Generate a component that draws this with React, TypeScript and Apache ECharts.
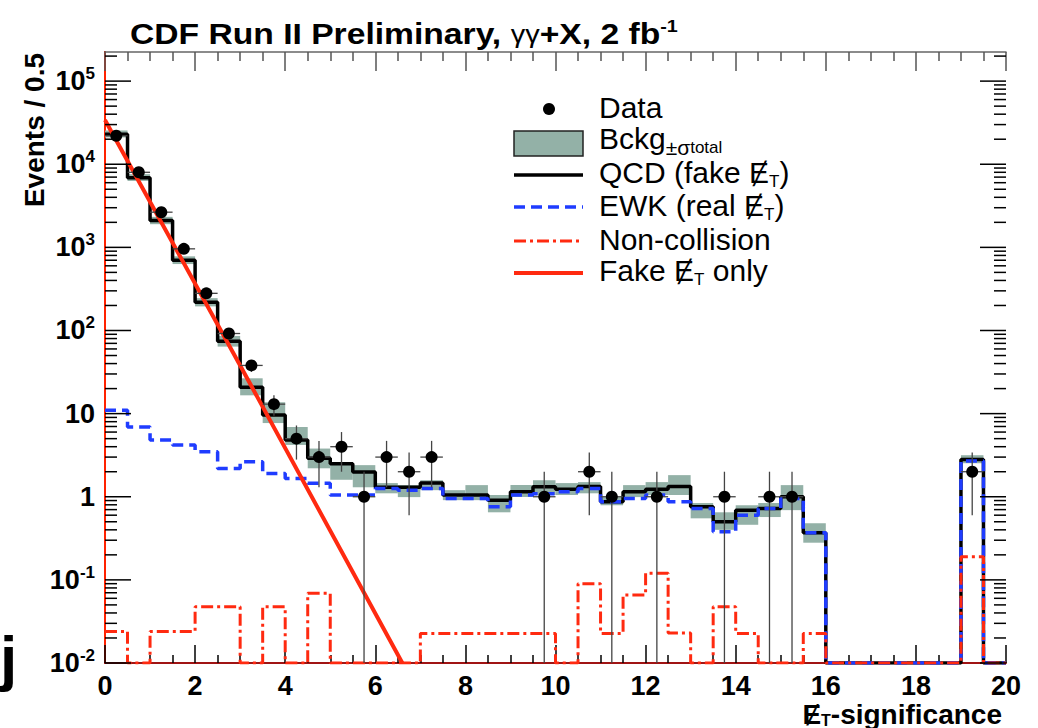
import React, { useEffect, useRef } from "react";
import * as echarts from "echarts";

const FONT = "'Liberation Sans', Arial, Helvetica, sans-serif";
const ESLASH = "\u0246"; // E with stroke (missing transverse energy)

// ---------- axis setup ----------
const BIN_WIDTH = 0.5;
const X_MIN = 0;
const X_MAX = 20;
const X_INTERVAL = 2;
const Y_MIN = 0.01;
const Y_MAX = 2.24e5;

// ---------- histogram contents (40 bins of 0.5) ----------
const qcdFake = [
  23000, 6900, 2100, 700, 218, 74, 20.8, 9.6, 4.8, 2.9,
  2.5, 1.98, 1.3, 1.3, 1.46, 1.05, 1.05, 0.91, 1.15, 1.32,
  1.23, 1.33, 0.87, 1.15, 1.23, 1.33, 0.76, 0.5, 0.69, 0.72,
  1.0, 0.37, 0, 0, 0, 0, 0, 0, 2.8, 0,
];
const ewkReal = [
  11, 6.9, 4.8, 4.2, 3.47, 2.19, 2.63, 1.9, 1.66, 1.45,
  1.05, 1.05, 1.26, 1.2, 1.26, 0.95, 0.95, 0.76, 1.05, 1.09,
  1.15, 1.26, 0.87, 0.95, 1.05, 0.87, 0.72, 0.38, 0.6, 0.72,
  0.95, 0.37, 0, 0, 0, 0, 0, 0, 2.7, 0,
];
const nonCollision = [
  0.024, 0, 0.024, 0.024, 0.0475, 0.0475, 0, 0.0475, 0, 0.069,
  0, 0, 0, 0, 0.0227, 0.0227, 0.0227, 0.0227, 0.0227, 0.0227,
  0, 0.09, 0.0227, 0.0656, 0.12, 0.023, 0, 0.0475, 0.0227, 0,
  0, 0.0227, 0, 0, 0, 0, 0, 0, 0.19, 0,
];
const bandLow = [
  21000, 6300, 1900, 630, 195, 64, 16.6, 7.7, 4.2, 2.2,
  1.6, 1.3, 1.1, 0.99, 1.2, 0.91, 0.91, 0.65, 0.99, 1.05,
  1.05, 1.1, 0.79, 0.99, 1.05, 1.05, 0.55, 0.4, 0.46, 0.57,
  0.69, 0.28, 0, 0, 0, 0, 0, 0, 2.53, 0,
];
const bandHigh = [
  25500, 7600, 2330, 780, 245, 86, 26.6, 13.7, 6.9, 3.8,
  2.6, 2.4, 1.46, 1.38, 1.58, 1.2, 1.38, 1.05, 1.38, 1.58,
  1.46, 1.5, 0.99, 1.38, 1.5, 1.82, 0.84, 0.65, 0.79, 0.84,
  1.38, 0.48, 0, 0, 0, 0, 0, 0, 3.16, 0,
];
const dataCounts = [
  22000, 8000, 2650, 960, 280, 92, 38, 13, 5, 3,
  4, 1, 3, 2, 3, 0, 0, 0, 0, 1,
  0, 2, 1, 0, 1, 0, 0, 1, 0, 1,
  1, 0, 0, 0, 0, 0, 0, 0, 2, 0,
];
const dataErrors = [
  148, 89, 51, 31, 17, 9.6, 6.2, 3.6, 2.2, 1.7,
  2, 1, 1.7, 1.4, 1.7, 0, 0, 0, 0, 1,
  0, 1.4, 1, 0, 1, 0, 0, 1, 0, 1,
  1, 0, 0, 0, 0, 0, 0, 0, 1.4, 0,
];
// fitted "fake MET only" curve
const fakeOnlyX = [0, 3, 6.6];
const fakeOnlyY = [34000, 38, 0.01];

const BAND_COLOR = "#93b1a7";
const BLUE = "#1f3cff";
const RED = "#ff2a10";

function stepPoints(vals: number[]) {
  const pts: number[][] = [];
  vals.forEach((v, i) => {
    const y = v > 0 ? v : Y_MIN;
    pts.push([i * BIN_WIDTH, y], [(i + 1) * BIN_WIDTH, y]);
  });
  return pts;
}

function isDecade(v: number) {
  const e = Math.log10(v);
  return Math.abs(e - Math.round(e)) < 1e-6;
}

export default function App() {
  const ref = useRef<HTMLDivElement>(null);

  useEffect(() => {
    if (!ref.current) return;
    const chart = echarts.init(ref.current, undefined, { renderer: "svg" });

    const yTickVals: number[][] = [];
    for (let e = -2; e <= 5; e++) {
      for (let m = 1; m <= 9; m++) {
        const v = m * Math.pow(10, e);
        if (v <= Y_MAX) yTickVals.push([X_MIN, v]);
      }
    }

    const bandData = bandHigh
      .map((hi, i) => [i * BIN_WIDTH, bandLow[i], hi])
      .filter((d) => d[2] > 0);

    const pointData = dataCounts
      .map((n, i) => [(i + 0.5) * BIN_WIDTH, n])
      .filter((d) => d[1] > 0);

    const errData = dataCounts
      .map((n, i) => [(i + 0.5) * BIN_WIDTH, n, n - dataErrors[i], n + dataErrors[i]])
      .filter((d) => d[1] > 0);

    const fakeData = fakeOnlyX.map((x, i) => [x, fakeOnlyY[i]]);

    const tickLabel = {
      b: { fontSize: 27, fontWeight: "bold", fontFamily: FONT, color: "#000", lineHeight: 32 },
      s: { fontSize: 17, fontWeight: "bold", fontFamily: FONT, color: "#000", lineHeight: 17, verticalAlign: "top" },
    };

    // main tokens pinned to the top of the line; sub tokens centred in a taller box => sit lower
    const legRich = {
      n: { fontSize: 30, fontFamily: FONT, color: "#000", lineHeight: 32, verticalAlign: "top" },
      p: { fontSize: 21, fontFamily: FONT, color: "#000", lineHeight: 40 },
      sub: { fontSize: 17, fontFamily: FONT, color: "#000", lineHeight: 48 },
    };

    const LX0 = 514;
    const LX1 = 583;
    const LTX = 599;

    const legendText = (yCenter: number, text: string) => ({
      type: "text",
      x: LTX,
      y: yCenter - 16,
      style: {
        text,
        rich: legRich,
        fontSize: 30,
        fontFamily: FONT,
        fill: "#000",
        align: "left",
        verticalAlign: "top",
      },
    });

    const option: any = {
      animation: false,
      backgroundColor: "#fff",
      grid: { left: 105, top: 52, right: 32, bottom: 65 },
      xAxis: [
        {
          type: "value",
          min: X_MIN,
          max: X_MAX,
          interval: X_INTERVAL,
          position: "bottom",
          axisLine: { show: true, lineStyle: { color: "#a01414", width: 2 } },
          axisTick: { show: true, inside: true, length: 18, lineStyle: { color: "#000", width: 1.5 } },
          minorTick: { show: true, splitNumber: 4, length: 8, lineStyle: { color: "#000", width: 1.5 } },
          axisLabel: {
            show: true,
            fontSize: 27,
            fontWeight: "bold",
            fontFamily: FONT,
            color: "#000",
            margin: 9,
          },
          splitLine: { show: false },
        },
        {
          type: "value",
          min: X_MIN,
          max: X_MAX,
          interval: X_INTERVAL,
          position: "top",
          axisLine: { show: true, lineStyle: { color: "#666", width: 1.5 } },
          axisTick: { show: true, inside: true, length: 19, lineStyle: { color: "#555", width: 1.5 } },
          minorTick: { show: true, splitNumber: 4, length: 9, lineStyle: { color: "#555", width: 1.5 } },
          axisLabel: { show: false },
          splitLine: { show: false },
        },
      ],
      yAxis: [
        {
          type: "log",
          logBase: 10,
          min: Y_MIN,
          max: Y_MAX,
          position: "left",
          axisLine: { show: true, lineStyle: { color: "#000", width: 2 } },
          axisTick: { show: false },
          axisLabel: {
            show: true,
            margin: 10,
            formatter: (v: number) => {
              const e = Math.log10(v);
              const k = Math.round(e);
              if (Math.abs(e - k) > 1e-6) return "";
              if (k === 0) return "{b|1}";
              if (k === 1) return "{b|10}";
              return `{b|10}{s|${k}}`;
            },
            rich: tickLabel,
          },
          splitLine: { show: false },
        },
        {
          type: "log",
          logBase: 10,
          min: Y_MIN,
          max: Y_MAX,
          position: "right",
          axisLine: { show: true, lineStyle: { color: "#ff2200", width: 2 } },
          axisTick: { show: false },
          axisLabel: { show: false },
          splitLine: { show: false },
        },
      ],
      series: [
        {
          name: "Bckg band",
          type: "custom",
          xAxisIndex: 0,
          yAxisIndex: 0,
          z: 1,
          clip: true,
          silent: true,
          encode: { x: 0, y: [1, 2] },
          data: bandData,
          renderItem: (params: any, api: any) => {
            const x0 = api.value(0);
            const lo = api.value(1);
            const hi = api.value(2);
            const p1 = api.coord([x0, hi]);
            const p2 = api.coord([x0 + BIN_WIDTH, lo]);
            return {
              type: "rect",
              shape: { x: p1[0], y: p1[1], width: p2[0] - p1[0], height: p2[1] - p1[1] },
              style: { fill: BAND_COLOR },
            };
          },
        },
        {
          name: "QCD (fake MET)",
          type: "line",
          z: 2,
          symbol: "none",
          data: stepPoints(qcdFake),
          lineStyle: { color: "#000", width: 3.5 },
        },
        {
          name: "EWK (real MET)",
          type: "line",
          z: 3,
          symbol: "none",
          data: stepPoints(ewkReal),
          lineStyle: { color: BLUE, width: 3.5, type: [11, 6] },
        },
        {
          name: "Non-collision",
          type: "line",
          z: 4,
          symbol: "none",
          data: stepPoints(nonCollision),
          lineStyle: { color: RED, width: 3, type: [12, 4, 3, 4] },
        },
        {
          name: "Fake MET only",
          type: "line",
          z: 5,
          symbol: "none",
          data: fakeData,
          lineStyle: { color: RED, width: 4 },
        },
        {
          name: "Data errors",
          type: "custom",
          z: 6,
          clip: true,
          silent: true,
          encode: { x: 0, y: 1 },
          data: errData,
          renderItem: (params: any, api: any) => {
            const xc = api.value(0);
            const n = api.value(1);
            const lo = Math.max(api.value(2), Y_MIN);
            const hi = api.value(3);
            const pLo = api.coord([xc, lo]);
            const pHi = api.coord([xc, hi]);
            const pL = api.coord([xc - BIN_WIDTH / 2, n]);
            const pR = api.coord([xc + BIN_WIDTH / 2, n]);
            return {
              type: "group",
              children: [
                { type: "line", shape: { x1: pLo[0], y1: pLo[1], x2: pHi[0], y2: pHi[1] }, style: { stroke: "#444", lineWidth: 1.3 } },
                { type: "line", shape: { x1: pL[0], y1: pL[1], x2: pR[0], y2: pR[1] }, style: { stroke: "#444", lineWidth: 1.3 } },
              ],
            };
          },
        },
        {
          name: "Data",
          type: "scatter",
          z: 7,
          symbol: "circle",
          symbolSize: 12,
          itemStyle: { color: "#000", opacity: 1 },
          data: pointData,
        },
        {
          name: "y ticks",
          type: "custom",
          z: 8,
          silent: true,
          encode: { x: 0, y: 1 },
          data: yTickVals,
          renderItem: (params: any, api: any) => {
            const v = api.value(1);
            const major = isDecade(v);
            const L = api.coord([X_MIN, v]);
            const R = api.coord([X_MAX, v]);
            const len = major ? 26 : 12;
            return {
              type: "group",
              children: [
                { type: "line", shape: { x1: L[0], y1: L[1], x2: L[0] + len, y2: L[1] }, style: { stroke: "#000", lineWidth: 1.5 } },
                { type: "line", shape: { x1: R[0] - len, y1: R[1], x2: R[0], y2: R[1] }, style: { stroke: "#000", lineWidth: 1.5 } },
              ],
            };
          },
        },
      ],
      graphic: [
        {
          type: "text",
          x: 130,
          y: 34,
          scaleX: 1.16,
          style: {
            text: "{a|CDF Run II Preliminary, }{g|γγ}{a|+X, 2 fb}{s|-1}",
            rich: {
              a: { fontSize: 29, fontWeight: "bold", fontFamily: FONT, color: "#000", lineHeight: 34 },
              g: { fontSize: 25, fontFamily: FONT, color: "#000", lineHeight: 34 },
              s: { fontSize: 17, fontWeight: "bold", fontFamily: FONT, color: "#000", lineHeight: 18, verticalAlign: "top" },
            },
            fontSize: 29,
            fontFamily: FONT,
            align: "left",
            verticalAlign: "middle",
          },
        },
        {
          type: "text",
          x: 34,
          y: 53,
          rotation: Math.PI / 2,
          style: {
            text: "Events / 0.5",
            fontSize: 28,
            fontWeight: "bold",
            fontFamily: FONT,
            fill: "#000",
            align: "right",
            verticalAlign: "middle",
          },
        },
        {
          type: "text",
          x: 1002,
          y: 700,
          style: {
            text: `{e|${ESLASH}}{t|T}{n|-significance}`,
            rich: {
              e: { fontSize: 28, fontWeight: "bold", fontFamily: FONT, color: "#000", lineHeight: 26, verticalAlign: "top" },
              t: { fontSize: 16, fontWeight: "bold", fontFamily: FONT, color: "#000", lineHeight: 40 },
              n: { fontSize: 28, fontWeight: "bold", fontFamily: FONT, color: "#000", lineHeight: 26, verticalAlign: "top" },
            },
            fontSize: 28,
            fontFamily: FONT,
            align: "right",
            verticalAlign: "top",
          },
        },
        {
          type: "text",
          x: 0,
          y: 657,
          style: {
            text: "j",
            fontSize: 62,
            fontWeight: "bold",
            fontFamily: FONT,
            fill: "#000",
            align: "left",
            verticalAlign: "middle",
          },
        },
        // legend
        { type: "circle", shape: { cx: 549, cy: 109, r: 6 }, style: { fill: "#000" } },
        legendText(108, "{n|Data}"),
        {
          type: "rect",
          shape: { x: LX0, y: 131, width: LX1 - LX0, height: 25 },
          style: { fill: BAND_COLOR, stroke: "#222", lineWidth: 1.5 },
        },
        legendText(139, "{n|Bckg}{p|±σ}{sub|total}"),
        { type: "line", shape: { x1: LX0, y1: 175, x2: LX1, y2: 175 }, style: { stroke: "#000", lineWidth: 3.5 } },
        legendText(173, `{n|QCD (fake ${ESLASH}}{sub|T}{n|)}`),
        { type: "line", shape: { x1: LX0, y1: 207, x2: LX1, y2: 207 }, style: { stroke: BLUE, lineWidth: 3.5, lineDash: [11, 6] } },
        legendText(206, `{n|EWK (real ${ESLASH}}{sub|T}{n|)}`),
        { type: "line", shape: { x1: LX0, y1: 241, x2: LX1, y2: 241 }, style: { stroke: RED, lineWidth: 3, lineDash: [12, 4, 3, 4] } },
        legendText(240, "{n|Non-collision}"),
        { type: "line", shape: { x1: LX0, y1: 273, x2: LX1, y2: 273 }, style: { stroke: RED, lineWidth: 4 } },
        legendText(271, `{n|Fake ${ESLASH}}{sub|T}{n| only}`),
      ],
    };

    chart.setOption(option);
    return () => chart.dispose();
  }, []);

  return (
    <div
      ref={ref}
      style={{ position: "absolute", left: 0, top: 0, width: 1038, height: 728, background: "#fff" }}
    />
  );
}
